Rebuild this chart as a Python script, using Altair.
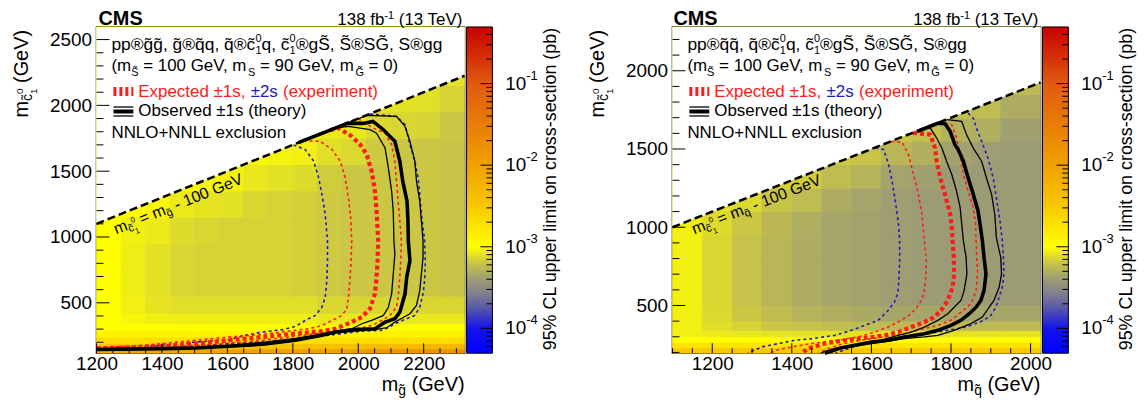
import unicodedata
import altair as alt
import pandas as pd

FONT = "Liberation Sans"
T = "\u0303"  # combining tilde
RED = "#ff1a1a"
BLUE = "#1c1cc0"

# ---------------- colour map (log10 of 95% CL upper limit in pb) ----------------
STOP_T = [-4.305, -4.0, -3.75, -3.55, -3.4, -3.2, -3.0, -2.5, -2.0, -1.0, -0.305]
STOP_C = ["#0000ff", "#1414ec", "#5858a8", "#85858a", "#9c9c74", "#c8c448",
          "#ffff00", "#f8c800", "#f0a000", "#e05a10", "#c80000"]
CB_DOMAIN = [4.955e-05, 0.4955]
CB_MAJOR = [1e-4, 1e-3, 1e-2, 1e-1]
CB_EXP = ["-4", "-3", "-2", "-1"]
CB_MINOR = [6e-5, 7e-5, 8e-5, 9e-5,
            2e-4, 3e-4, 4e-4, 5e-4, 6e-4, 7e-4, 8e-4, 9e-4,
            2e-3, 3e-3, 4e-3, 5e-3, 6e-3, 7e-3, 8e-3, 9e-3,
            2e-2, 3e-2, 4e-2, 5e-2, 6e-2, 7e-2, 8e-2, 9e-2,
            2e-1, 3e-1, 4e-1]

# ---------------- left panel: gluino ----------------
G_XDOM = [1200, 2325]
G_YDOM = [117, 2596]
G_DIAG_X = [1200, 2325]
G_DIAG_Y = [1100, 2225]
G_XEDGES = [1200, 1275, 1350, 1425, 1500, 1575, 1650, 1725, 1800, 1875, 1950, 2025, 2100, 2175, 2250, 2325]
G_YEDGES = [117, 150, 190, 240, 290, 340, 420, 550, 750, 950, 1150, 1350, 1550, 1750, 1950, 2150, 2596]
G_LOGLIM = [
    [-2.1, -2.1, -2.1, -2.1, -2.1, -2.0, -2.0, -2.0, -2.0, -2.0, -2.0, -1.9, -1.85, -1.8, -1.8],
    [-2.45, -2.45, -2.45, -2.45, -2.45, -2.45, -2.45, -2.45, -2.4, -2.4, -2.4, -2.35, -2.35, -2.3, -2.3],
    [-2.7, -2.7, -2.7, -2.7, -2.7, -2.7, -2.7, -2.7, -2.7, -2.7, -2.7, -2.7, -2.7, -2.7, -2.7],
    [-2.9, -2.9, -2.9, -2.9, -2.9, -2.9, -2.9, -2.9, -2.9, -2.9, -2.9, -2.9, -2.9, -2.9, -2.9],
    [-3.0, -3.0, -3.0, -3.0, -3.0, -3.0, -3.0, -3.0, -3.0, -3.0, -3.0, -3.0, -3.0, -3.0, -3.0],
    [-3.0, -3.03, -3.05, -3.06, -3.06, -3.06, -3.06, -3.06, -3.06, -3.08, -3.08, -3.08, -3.08, -3.08, -3.08],
    [-3.0, -3.05, -3.09, -3.11, -3.11, -3.11, -3.11, -3.11, -3.11, -3.14, -3.14, -3.14, -3.14, -3.14, -3.14],
    [-3.0, -3.06, -3.1, -3.14, -3.15, -3.15, -3.15, -3.15, -3.16, -3.18, -3.19, -3.19, -3.19, -3.19, -3.2],
    [-3.0, -3.06, -3.1, -3.14, -3.15, -3.15, -3.15, -3.15, -3.16, -3.18, -3.19, -3.19, -3.19, -3.19, -3.2],
    [-3.0, -3.05, -3.07, -3.12, -3.14, -3.15, -3.15, -3.15, -3.16, -3.18, -3.19, -3.19, -3.19, -3.19, -3.2],
    [-3.0, -3.02, -3.03, -3.07, -3.09, -3.1, -3.14, -3.15, -3.16, -3.18, -3.19, -3.19, -3.19, -3.19, -3.2],
    [-3.0, -3.0, -3.0, -3.02, -3.03, -3.04, -3.08, -3.1, -3.12, -3.17, -3.19, -3.19, -3.19, -3.19, -3.2],
    [-3.0, -3.0, -3.0, -3.0, -3.0, -3.0, -3.03, -3.04, -3.05, -3.11, -3.13, -3.18, -3.19, -3.19, -3.2],
    [-3.0, -3.0, -3.0, -3.0, -3.0, -3.0, -3.0, -3.0, -3.0, -3.07, -3.08, -3.13, -3.14, -3.15, -3.19],
    [-3.0, -3.0, -3.0, -3.0, -3.0, -3.0, -3.0, -3.0, -3.0, -3.0, -3.0, -3.09, -3.1, -3.11, -3.15],
    [-3.0, -3.0, -3.0, -3.0, -3.0, -3.0, -3.0, -3.0, -3.0, -3.0, -3.0, -3.0, -3.0, -3.05, -3.1],
]
G_OBS_X = [1817, 1924, 1969, 2015, 2045, 2076, 2112, 2127, 2136, 2149, 2152, 2153, 2158, 2148, 2143, 2127, 2112, 2082, 2051, 1990, 1930, 1889, 1808, 1707, 1605, 1504, 1403, 1200]
G_OBS_Y = [1717, 1822, 1865, 1863, 1878, 1817, 1727, 1576, 1424, 1273, 1122, 971, 820, 693, 568, 429, 379, 353, 303, 296, 278, 253, 215, 185, 170, 157, 152, 145]
G_OBSM_X = [1945, 1970, 2036, 2056, 2082, 2092, 2102, 2107, 2109, 2112, 2107, 2102, 2092, 2077, 2041, 2011, 1980, 1930, 1889, 1808, 1707, 1605, 1504, 1403, 1200]
G_OBSM_Y = [1833, 1840, 1815, 1789, 1676, 1525, 1349, 1198, 971, 870, 719, 568, 466, 404, 366, 341, 303, 283, 264, 230, 200, 177, 162, 155, 147]
G_OBSP_X = [1988, 2026, 2117, 2143, 2158, 2173, 2178, 2188, 2193, 2198, 2198, 2193, 2188, 2178, 2158, 2143, 2112, 2087, 2051, 1990, 1930, 1889, 1808, 1707, 1605, 1504, 1200]
G_OBSP_Y = [1886, 1924, 1916, 1840, 1727, 1576, 1424, 1273, 1122, 971, 845, 719, 593, 480, 417, 396, 353, 311, 296, 287, 272, 249, 211, 181, 166, 155, 139]
G_EXP_X = [1914, 1940, 1980, 2006, 2026, 2041, 2051, 2056, 2061, 2059, 2056, 2051, 2036, 2011, 1980, 1930, 1889, 1808, 1707, 1605, 1504, 1403, 1301, 1200]
G_EXP_Y = [1812, 1827, 1765, 1702, 1626, 1500, 1349, 1198, 971, 820, 693, 568, 455, 391, 353, 303, 285, 266, 240, 215, 190, 170, 160, 155]
G_EXPM_X = [1833, 1884, 1920, 1945, 1960, 1970, 1977, 1980, 1978, 1975, 1970, 1965, 1950, 1920, 1889, 1849, 1808, 1707, 1605, 1504, 1403, 1301, 1200]
G_EXPM_Y = [1731, 1727, 1664, 1576, 1449, 1298, 1147, 971, 820, 693, 542, 455, 404, 366, 328, 303, 291, 260, 240, 215, 190, 170, 160]
G_EXPP_X = [2000, 2046, 2082, 2102, 2112, 2117, 2122, 2127, 2132, 2130, 2127, 2122, 2117, 2097, 2072, 2041, 2011, 1909, 1808, 1707, 1605, 1504, 1403, 1200]
G_EXPP_Y = [1898, 1827, 1789, 1702, 1576, 1424, 1273, 1122, 971, 820, 693, 542, 467, 404, 366, 328, 311, 278, 245, 215, 192, 173, 162, 152]
G_EXP2M_X = [1802, 1838, 1864, 1879, 1889, 1899, 1906, 1906, 1904, 1899, 1889, 1869, 1838, 1808, 1768, 1707, 1656, 1605, 1504, 1403, 1301, 1200]
G_EXP2M_Y = [1700, 1664, 1576, 1449, 1324, 1173, 971, 820, 669, 542, 467, 404, 366, 320, 296, 278, 253, 220, 202, 177, 160, 149]
G_EXP2P_X = [2036, 2117, 2143, 2158, 2173, 2183, 2188, 2193, 2203, 2205, 2203, 2198, 2188, 2173, 2148, 2112, 2092, 2072, 2011, 1909, 1808, 1707, 1605, 1504, 1403, 1200]
G_EXP2P_Y = [1934, 1916, 1853, 1702, 1576, 1449, 1324, 1173, 971, 820, 669, 568, 467, 404, 379, 341, 311, 291, 285, 253, 220, 202, 190, 170, 160, 149]
G_XMAJ = [1200, 1400, 1600, 1800, 2000, 2200]
G_YMAJ = [500, 1000, 1500, 2000, 2500]

# ---------------- right panel: squark ----------------
Q_XDOM = [1100, 2025]
Q_YDOM = [195, 2280]
Q_DIAG_X = [1100, 2025]
Q_DIAG_Y = [1000, 1925]
Q_XEDGES = [1100, 1175, 1250, 1325, 1400, 1475, 1550, 1625, 1700, 1775, 1850, 1925, 2025]
Q_YEDGES = [195, 230, 265, 300, 340, 400, 500, 650, 800, 950, 1100, 1250, 1400, 1550, 1700, 1850, 2280]
Q_LOGLIM = [
    [-2.5, -2.5, -2.5, -2.5, -2.5, -2.5, -2.5, -2.5, -2.5, -2.5, -2.5, -2.5],
    [-2.75, -2.75, -2.75, -2.75, -2.75, -2.75, -2.75, -2.75, -2.75, -2.75, -2.75, -2.75],
    [-3.0, -3.0, -3.0, -3.0, -3.0, -3.0, -3.0, -3.0, -3.0, -3.0, -3.0, -3.0],
    [-3.05, -3.07, -3.08, -3.1, -3.1, -3.1, -3.1, -3.1, -3.1, -3.1, -3.1, -3.1],
    [-3.05, -3.11, -3.15, -3.19, -3.21, -3.23, -3.24, -3.25, -3.25, -3.25, -3.25, -3.25],
    [-3.05, -3.13, -3.19, -3.24, -3.28, -3.31, -3.33, -3.35, -3.35, -3.35, -3.35, -3.35],
    [-3.05, -3.14, -3.21, -3.27, -3.32, -3.35, -3.37, -3.39, -3.4, -3.4, -3.4, -3.4],
    [-3.05, -3.14, -3.21, -3.27, -3.32, -3.35, -3.37, -3.39, -3.4, -3.4, -3.4, -3.4],
    [-3.05, -3.14, -3.21, -3.27, -3.32, -3.35, -3.37, -3.39, -3.4, -3.4, -3.4, -3.4],
    [-3.05, -3.12, -3.19, -3.26, -3.31, -3.35, -3.37, -3.39, -3.4, -3.4, -3.4, -3.4],
    [-3.05, -3.1, -3.13, -3.2, -3.24, -3.32, -3.36, -3.39, -3.4, -3.4, -3.4, -3.4],
    [-3.05, -3.1, -3.1, -3.15, -3.17, -3.24, -3.28, -3.36, -3.38, -3.4, -3.4, -3.4],
    [-3.1, -3.1, -3.1, -3.1, -3.12, -3.18, -3.2, -3.27, -3.3, -3.37, -3.39, -3.4],
    [-3.1, -3.1, -3.1, -3.1, -3.1, -3.12, -3.14, -3.2, -3.22, -3.29, -3.31, -3.38],
    [-3.1, -3.1, -3.1, -3.1, -3.1, -3.1, -3.1, -3.12, -3.14, -3.22, -3.24, -3.32],
    [-3.1, -3.1, -3.1, -3.1, -3.1, -3.1, -3.1, -3.1, -3.1, -3.14, -3.16, -3.25],
]
Q_OBS_X = [1715, 1768, 1785, 1798, 1810, 1818, 1831, 1843, 1856, 1868, 1873, 1879, 1883, 1888, 1883, 1875, 1863, 1846, 1825, 1800, 1767, 1733, 1683, 1642, 1600, 1558, 1517, 1483]
Q_OBS_Y = [1612, 1665, 1662, 1613, 1528, 1496, 1422, 1316, 1210, 1104, 1019, 913, 807, 702, 595, 532, 489, 447, 405, 373, 341, 320, 299, 278, 267, 246, 225, 195]
Q_OBSM_X = [1733, 1748, 1764, 1777, 1789, 1802, 1814, 1823, 1827, 1831, 1838, 1840, 1833, 1825, 1808, 1792, 1767, 1733, 1700, 1667, 1623, 1573, 1523, 1485, 1473]
Q_OBSM_Y = [1630, 1634, 1570, 1506, 1422, 1337, 1231, 1125, 1020, 915, 807, 702, 595, 532, 489, 447, 405, 362, 330, 309, 278, 257, 233, 208, 195]
Q_OBSP_X = [1790, 1827, 1839, 1856, 1877, 1889, 1902, 1910, 1914, 1925, 1927, 1921, 1908, 1896, 1879, 1850, 1808, 1767, 1733, 1683, 1623, 1573, 1523, 1493]
Q_OBSP_Y = [1688, 1676, 1592, 1506, 1422, 1316, 1210, 1083, 934, 807, 702, 616, 532, 489, 426, 384, 341, 309, 299, 288, 265, 246, 224, 195]
Q_EXP_X = [1705, 1748, 1760, 1764, 1773, 1785, 1798, 1802, 1804, 1807, 1808, 1804, 1792, 1775, 1758, 1733, 1700, 1667, 1633, 1583, 1533, 1483, 1440, 1425]
Q_EXP_Y = [1603, 1592, 1506, 1422, 1316, 1210, 1083, 998, 915, 807, 702, 616, 532, 468, 426, 394, 362, 330, 309, 292, 278, 257, 225, 195]
Q_EXPM_X = [1650, 1677, 1693, 1706, 1718, 1727, 1733, 1738, 1736, 1732, 1721, 1700, 1675, 1642, 1608, 1567, 1517, 1450, 1400, 1360, 1345]
Q_EXPM_Y = [1548, 1545, 1464, 1337, 1210, 1083, 915, 786, 659, 575, 511, 447, 405, 362, 330, 299, 278, 257, 235, 214, 195]
Q_EXPP_X = [1770, 1802, 1814, 1823, 1831, 1843, 1856, 1862, 1863, 1865, 1867, 1863, 1854, 1842, 1825, 1800, 1767, 1733, 1683, 1633, 1583, 1535, 1493, 1468]
Q_EXPP_Y = [1668, 1655, 1570, 1464, 1337, 1231, 1125, 1020, 913, 807, 702, 595, 532, 489, 458, 405, 373, 352, 320, 299, 282, 259, 227, 195]
Q_EXP2M_X = [1610, 1631, 1643, 1652, 1660, 1668, 1671, 1671, 1669, 1667, 1658, 1642, 1617, 1583, 1550, 1508, 1450, 1408, 1367, 1325, 1290]
Q_EXP2M_Y = [1508, 1496, 1401, 1295, 1168, 1020, 913, 786, 659, 585, 521, 468, 405, 373, 341, 309, 288, 278, 257, 235, 198]
Q_EXP2P_X = [1843, 1856, 1864, 1877, 1893, 1906, 1914, 1923, 1929, 1932, 1933, 1929, 1921, 1913, 1900, 1883, 1850, 1817, 1767, 1717, 1673, 1623, 1560, 1510]
Q_EXP2P_Y = [1729, 1697, 1634, 1549, 1443, 1316, 1189, 1041, 913, 786, 702, 616, 553, 489, 437, 405, 373, 352, 330, 309, 290, 271, 240, 195]
Q_XMAJ = [1200, 1400, 1600, 1800, 2000]
Q_YMAJ = [500, 1000, 1500, 2000]

# ---------------- helpers ----------------
W, H = 370, 328
ONE = pd.DataFrame({"k": [0]})
AW = {' ': 278, '(': 333, ')': 333, 'm': 833, '=': 584, 'G': 778, 'e': 556, 'V': 667, ',': 278,
      'p': 556, 'q': 556, 'g': 556, 'c': 500, 'S': 667, '®': 737, '±': 584, 'x': 500, 'E': 667,
      't': 278, 'd': 556, 'r': 333, 'i': 222, 'n': 556, 'o': 556, 'h': 556, 'y': 500, 'O': 778,
      'b': 556, 's': 500, 'v': 500, 'N': 722, 'L': 556, '+': 584, 'l': 222, 'u': 556, 'T': 611,
      'C': 722, 'M': 833, '%': 889, 'f': 278, '-': 333}


def tw(s, size):
    return sum(AW.get(ch, 556) for ch in s if not unicodedata.combining(ch)) * size / 1000.0


def P(t, s, dy=0, c="black", adv=True, w=None):
    return dict(t=t, s=s, dy=dy, c=c, adv=adv, w=w)


def rich(pieces, x, y, angle=0, align="left", baseline="middle"):
    total = sum(tw(p["t"], p["s"]) for p in pieces if p["adv"])
    cur = 0.0 if align == "left" else -total
    out = []
    for p in pieces:
        t = p["t"]
        lead = len(t) - len(t.lstrip(" "))
        kw = dict(text=t.strip(" "), font=FONT, fontSize=p["s"], color=p["c"],
                  align="left", baseline=baseline, dx=round(cur + tw(" " * lead, p["s"]), 2),
                  dy=p["dy"])
        if angle:
            kw["angle"] = angle
        if p["w"]:
            kw["fontWeight"] = p["w"]
        out.append(alt.Chart(ONE).mark_text(**kw).encode(x=alt.value(x), y=alt.value(y)))
        if p["adv"]:
            cur += tw(t, p["s"])
    return out


def rule(x1, x2, y, **kw):
    return alt.Chart(ONE).mark_rule(**kw).encode(x=alt.value(x1), x2=alt.value(x2), y=alt.value(y))


CS = alt.Scale(domain=STOP_T, range=STOP_C, interpolate="rgb", clamp=True)
GRAD = {"gradient": "linear", "x1": 0, "y1": 1, "x2": 0, "y2": 0,
        "stops": [{"offset": round((t - STOP_T[0]) / (STOP_T[-1] - STOP_T[0]), 4), "color": c}
                  for t, c in zip(STOP_T, STOP_C)]}


def make_panel(cfg):
    XS = alt.Scale(domain=cfg["xdom"], nice=False, zero=False)
    YS = alt.Scale(domain=cfg["ydom"], nice=False, zero=False)
    XAX = alt.Axis(values=cfg["xmaj"], title=None, ticks=False, domain=False, grid=False,
                   labelFont=FONT, labelFontSize=19, labelColor="black", labelPadding=1,
                   format="d", labelOverlap=False, labelFlush=False)
    YAX = alt.Axis(values=cfg["ymaj"], title=None, ticks=False, domain=False, grid=False,
                   labelFont=FONT, labelFontSize=19, labelColor="black", labelPadding=5,
                   format="d", labelOverlap=False, labelFlush=False)

    def X(f):
        return alt.X(f, type="quantitative", scale=XS, axis=XAX)

    def Y(f):
        return alt.Y(f, type="quantitative", scale=YS, axis=YAX)

    cells = []
    for r, row in enumerate(cfg["lim"]):
        for c, v in enumerate(row):
            cells.append(dict(x0=cfg["xe"][c], x1=cfg["xe"][c + 1],
                              y0=cfg["ye"][r], y1=cfg["ye"][r + 1], t=v))
    layers = []
    layers.append(alt.Chart(pd.DataFrame(cells)).mark_rect(strokeWidth=0.8).encode(
        x=X("x0"), x2="x1:Q", y=Y("y0"), y2="y1:Q",
        color=alt.Color("t:Q", scale=CS, legend=None),
        stroke=alt.Stroke("t:Q", scale=CS, legend=None)))
    diag = pd.DataFrame({"x": cfg["diag_x"], "y": cfg["diag_y"],
                         "top": [cfg["ydom"][1]] * len(cfg["diag_x"])})
    layers.append(alt.Chart(diag).mark_area(color="white", opacity=1).encode(
        x=X("x"), y=Y("y"), y2="top:Q"))

    styles = [
        ("exp2m", dict(color=BLUE, strokeWidth=1.6, strokeDash=[3, 3])),
        ("exp2p", dict(color=BLUE, strokeWidth=1.6, strokeDash=[3, 3])),
        ("expm", dict(color=RED, strokeWidth=1.6, strokeDash=[3, 3])),
        ("expp", dict(color=RED, strokeWidth=1.6, strokeDash=[3, 3])),
        ("exp", dict(color=RED, strokeWidth=4.2, strokeDash=[4, 3])),
        ("obsm", dict(color="black", strokeWidth=1.3)),
        ("obsp", dict(color="black", strokeWidth=1.3)),
        ("obs", dict(color="black", strokeWidth=3.6)),
    ]
    for key, st in styles:
        xs, ys = cfg["lines"][key]
        df = pd.DataFrame({"x": xs, "y": ys, "i": list(range(len(xs)))})
        layers.append(alt.Chart(df).mark_line(**st).encode(x=X("x"), y=Y("y"), order="i:Q"))
    layers.append(alt.Chart(diag).mark_line(color="black", strokeWidth=2.5, strokeDash=[8, 4]).encode(
        x=X("x"), y=Y("y")))

    # inward ticks
    xmin = [v for v in range(cfg["xdom"][0], cfg["xdom"][1], 50) if v % 200 != 0]
    ymin = [v for v in range(100 * (cfg["ydom"][0] // 100 + 1), cfg["ydom"][1], 100) if v % 500 != 0]
    layers.append(alt.Chart(pd.DataFrame({"v": cfg["xmaj"]})).mark_rule(color="black", strokeWidth=1).encode(
        x=X("v"), y=alt.value(H), y2=alt.value(H - 10)))
    layers.append(alt.Chart(pd.DataFrame({"v": xmin})).mark_rule(color="black", strokeWidth=1).encode(
        x=X("v"), y=alt.value(H), y2=alt.value(H - 5)))
    layers.append(alt.Chart(pd.DataFrame({"v": cfg["ymaj"]})).mark_rule(color="black", strokeWidth=1).encode(
        y=Y("v"), x=alt.value(0), x2=alt.value(13)))
    layers.append(alt.Chart(pd.DataFrame({"v": ymin})).mark_rule(color="black", strokeWidth=1).encode(
        y=Y("v"), x=alt.value(0), x2=alt.value(7)))

    # invisible anchor fixing the top extent of the panel
    layers.append(alt.Chart(ONE).mark_rule(strokeOpacity=0, strokeWidth=1).encode(
        x=alt.value(0), x2=alt.value(10), y=alt.value(-21)))

    # texts
    layers += rich([P("CMS", 20, w="bold")], cfg["cms_x"], -1.5, baseline="alphabetic")
    layers += rich([P("138 fb", 17), P("-1", 11, -6), P(" (13 TeV)", 17)], W, -1.5, align="right",
                   baseline="alphabetic")
    layers += rich(cfg["line1"], 15, 18)
    layers += rich([P("(m", 17), P("S" + T, 11, 7), P(" = 100 GeV, m", 17), P("S", 11, 7),
                    P(" = 90 GeV, m", 17), P("G" + T, 11, 7), P(" = 0)", 17)], 15, 39)
    layers.append(rule(17, 37, 65, color=RED, strokeWidth=9, strokeDash=[3, 3]))
    layers += rich([P("Expected \u00b11s, ", 17, c=RED), P("\u00b12s", 17, c=BLUE),
                    P(" (experiment)", 17, c=RED)], 42, 65)
    layers.append(rule(17, 37, 85, color="black", strokeWidth=4))
    layers.append(rule(17, 37, 80.5, color="black", strokeWidth=1.3))
    layers.append(rule(17, 37, 89.5, color="black", strokeWidth=1.3))
    layers += rich([P("Observed \u00b11s (theory)", 17)], 42, 85)
    layers += rich([P("NNLO+NNLL exclusion", 17)], 15, 107)
    # diagonal label
    layers += rich([P("m", 16), P("c" + T, 11, 5), P("0", 8, -2, adv=False), P("1", 8, 10),
                    P(" = m", 16), P(cfg["sp"] + T, 11, 5), P(" - 100 GeV", 16)],
                   cfg["dl_x"], cfg["dl_y"], angle=cfg["dl_a"])
    # axis titles
    layers += rich([P("m", 20), P(cfg["sp"] + T, 14, 6), P(" (GeV)", 20)], W, 360, align="right")
    layers += rich([P("m", 20), P("c" + T, 14, 6), P("0", 10, -2, adv=False), P("1", 10, 12),
                    P(" (GeV)", 20)], -75, 3, angle=270, align="right")
    main = alt.layer(*layers)

    # colour bar
    CBS = alt.Scale(type="log", domain=CB_DOMAIN, nice=False)

    def CY(f):
        return alt.Y(f, type="quantitative", scale=CBS, axis=None)

    cb = [
        alt.Chart(ONE).mark_rect(color=GRAD, stroke="black", strokeWidth=1).encode(
            x=alt.value(W + 2), x2=alt.value(W + 28), y=alt.value(0), y2=alt.value(H)),
        alt.Chart(pd.DataFrame({"v": CB_MAJOR})).mark_rule(color="black", strokeWidth=1).encode(
            y=CY("v"), x=alt.value(W + 16), x2=alt.value(W + 28)),
        alt.Chart(pd.DataFrame({"v": CB_MINOR})).mark_rule(color="black", strokeWidth=1).encode(
            y=CY("v"), x=alt.value(W + 22), x2=alt.value(W + 28)),
        alt.Chart(pd.DataFrame({"v": CB_MAJOR})).mark_text(
            text="10", font=FONT, fontSize=19, align="left", baseline="middle").encode(
            y=CY("v"), x=alt.value(W + 41)),
        alt.Chart(pd.DataFrame({"v": CB_MAJOR, "e": CB_EXP})).mark_text(
            font=FONT, fontSize=13, align="left", baseline="middle", dy=-8).encode(
            y=CY("v"), x=alt.value(W + 62), text="e:N"),
    ]
    cb += rich([P("95% CL upper limit on cross-section (pb)", 18)], W + 87, 0, angle=270, align="right")
    cbar = alt.layer(*cb)
    return alt.layer(main, cbar).resolve_scale(y="independent").properties(width=W, height=H)


left_cfg = dict(
    xdom=G_XDOM, ydom=G_YDOM, diag_x=G_DIAG_X, diag_y=G_DIAG_Y, xe=G_XEDGES, ye=G_YEDGES,
    lim=G_LOGLIM, xmaj=G_XMAJ, ymaj=G_YMAJ, sp="g", cms_x=2, dl_x=18, dl_y=204, dl_a=338.1,
    lines=dict(obs=(G_OBS_X, G_OBS_Y), obsm=(G_OBSM_X, G_OBSM_Y), obsp=(G_OBSP_X, G_OBSP_Y),
               exp=(G_EXP_X, G_EXP_Y), expm=(G_EXPM_X, G_EXPM_Y), expp=(G_EXPP_X, G_EXPP_Y),
               exp2m=(G_EXP2M_X, G_EXP2M_Y), exp2p=(G_EXP2P_X, G_EXP2P_Y)),
    line1=[P("pp\u00aeg" + T + "g" + T + ", g" + T + "\u00aeq" + T + "q, q" + T + "\u00aec" + T, 17.5),
           P("0", 11, -6, adv=False), P("1", 11, 6),
           P("q, c" + T, 17.5), P("0", 11, -6, adv=False), P("1", 11, 6),
           P("\u00aegS" + T + ", S" + T + "\u00aeSG" + T + ", S\u00aegg", 17.5)],
)
right_cfg = dict(
    xdom=Q_XDOM, ydom=Q_YDOM, diag_x=Q_DIAG_X, diag_y=Q_DIAG_Y, xe=Q_XEDGES, ye=Q_YEDGES,
    lim=Q_LOGLIM, xmaj=Q_XMAJ, ymaj=Q_YMAJ, sp="q", cms_x=1, dl_x=20, dl_y=204, dl_a=338.5,
    lines=dict(obs=(Q_OBS_X, Q_OBS_Y), obsm=(Q_OBSM_X, Q_OBSM_Y), obsp=(Q_OBSP_X, Q_OBSP_Y),
               exp=(Q_EXP_X, Q_EXP_Y), expm=(Q_EXPM_X, Q_EXPM_Y), expp=(Q_EXPP_X, Q_EXPP_Y),
               exp2m=(Q_EXP2M_X, Q_EXP2M_Y), exp2p=(Q_EXP2P_X, Q_EXP2P_Y)),
    line1=[P("pp\u00aeq" + T + "q" + T + ", q" + T + "\u00aec" + T, 17.5),
           P("0", 11, -6, adv=False), P("1", 11, 6),
           P("q, c" + T, 17.5), P("0", 11, -6, adv=False), P("1", 11, 6),
           P("\u00aegS" + T + ", S" + T + "\u00aeSG" + T + ", S\u00aegg", 17.5)],
)

chart = alt.hconcat(make_panel(left_cfg), make_panel(right_cfg), spacing=26).properties(
    padding={"left": 3, "top": -4, "right": 0, "bottom": 0}, background="white"
).configure_view(stroke="black", strokeWidth=1.5)

chart.save("out.html", embed_options={"renderer": "svg", "actions": False})
